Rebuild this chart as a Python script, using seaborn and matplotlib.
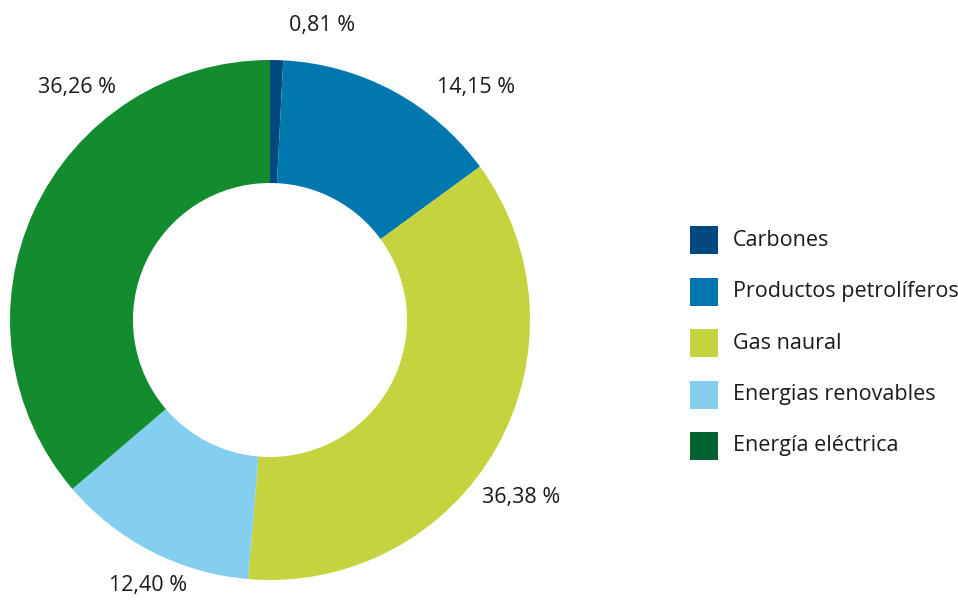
import matplotlib
matplotlib.use("Agg")
import matplotlib.pyplot as plt
from matplotlib.patches import Rectangle
import seaborn as sns

# Energy consumption shares by source (%)
categories = ["Carbones", "Productos petrolíferos", "Gas naural",
              "Energias renovables", "Energía eléctrica"]
shares = [0.81, 14.15, 36.38, 12.40, 36.26]
share_labels = ["0,81 %", "14,15 %", "36,38 %", "12,40 %", "36,26 %"]

wedge_colors = ["#004a7f", "#0077ae", "#c5d33e", "#82cff0", "#138c30"]
legend_colors = ["#004a7f", "#0077ae", "#c5d33e", "#82cff0", "#00622e"]

# label anchor points, in figure pixels from the top-left corner
label_px = [(322, 25), (476, 88), (521, 498), (148, 585), (77, 88)]

sns.set_theme(style="white")
plt.rcParams["font.family"] = ["Open Sans", "DejaVu Sans"]

W, H = 958, 601
fig = plt.figure(figsize=(W / 100, H / 100), dpi=100)
fig.patch.set_facecolor("white")

# donut axes: square box 520 px wide, centred at (270, 320)
cx, cy, r = 270, 320, 260
ax = fig.add_axes([(cx - r) / W, (H - cy - r) / H, 2 * r / W, 2 * r / H])
ax.pie(shares, colors=wedge_colors, startangle=90, counterclock=False,
       radius=1.0, wedgeprops=dict(width=0.473, edgecolor="none"))
ax.set_xlim(-1, 1)
ax.set_ylim(-1, 1)
ax.set_aspect("equal")
ax.axis("off")

FS = 15.5
for txt, (px, py) in zip(share_labels, label_px):
    fig.text(px / W, 1 - py / H, txt, ha="center", va="center",
             fontsize=FS, color="#1a1a1a")

# legend: 28 px swatches, 52 px row pitch, starting at (690, 226)
sw, x0, y0, pitch, gap = 28, 690, 226, 51.5, 15
for i, (name, col) in enumerate(zip(categories, legend_colors)):
    top = y0 + i * pitch
    fig.patches.append(Rectangle((x0 / W, 1 - (top + sw) / H), sw / W, sw / H,
                                 transform=fig.transFigure, facecolor=col,
                                 edgecolor="none"))
    fig.text((x0 + sw + gap) / W, 1 - (top + sw / 2) / H, name,
             ha="left", va="center", fontsize=FS, color="#1a1a1a")

fig.savefig("out.png", dpi=100, facecolor="white")
